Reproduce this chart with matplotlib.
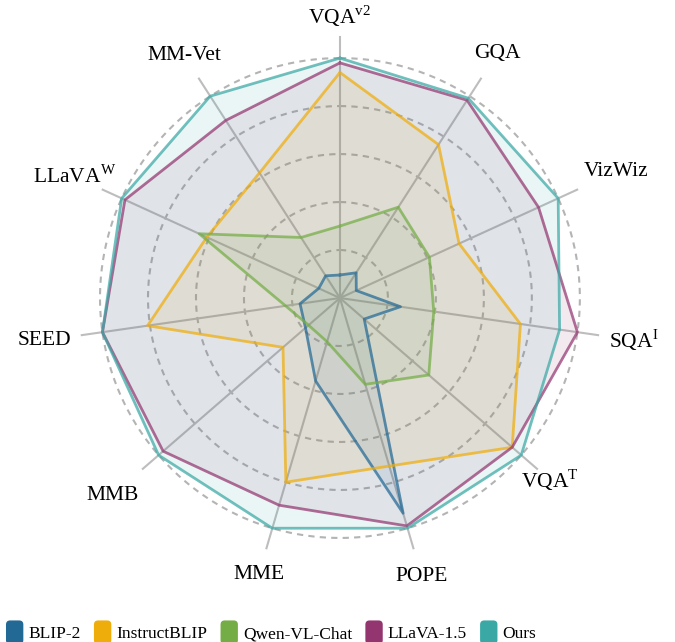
import numpy as np
import matplotlib
matplotlib.use("Agg")
import matplotlib.pyplot as plt
from matplotlib.patches import FancyBboxPatch
from matplotlib.legend_handler import HandlerPatch

plt.rcParams['font.family'] = ['Liberation Serif', 'DejaVu Serif']
plt.rcParams['mathtext.fontset'] = 'custom'
plt.rcParams['mathtext.rm'] = 'Liberation Serif'

# axes, clockwise from the top
benchmarks = [r'VQA$^{\mathrm{v2}}$', 'GQA', 'VizWiz', r'SQA$^{\mathrm{I}}$', r'VQA$^{\mathrm{T}}$',
              'POPE', 'MME', 'MMB', 'SEED', r'LLaVA$^{\mathrm{W}}$', 'MM-Vet']

# normalised scores
blip2 = [0.096, 0.125, 0.075, 0.255, 0.134, 0.935, 0.36, 0.19, 0.168, 0.097, 0.11]
instructblip = [0.94, 0.76, 0.546, 0.76, 0.95, 0.73, 0.80, 0.314, 0.81, 0.61, 0.62]
qwen = [0.30, 0.45, 0.41, 0.395, 0.49, 0.375, 0.19, 0.173, 0.229, 0.645, 0.30]
llava15 = [0.98, 0.98, 0.91, 1.0, 0.95, 0.99, 0.90, 0.975, 1.0, 0.985, 0.88]
ours = [1.0, 0.99, 1.0, 0.925, 1.0, 1.0, 1.0, 1.0, 1.0, 1.0, 1.0]

models = ['BLIP-2', 'InstructBLIP', 'Qwen-VL-Chat', 'LLaVA-1.5', 'Ours']
series = [blip2, instructblip, qwen, llava15, ours]
colors = ['#236995', '#efad0b', '#74ad45', '#933670', '#3aa8a5']

label_r = [1.175, 1.21, 1.267, 1.236, 1.16, 1.21, 1.20, 1.255, 1.244, 1.215, 1.20]

n = len(benchmarks)
theta = np.arange(n) * 2 * np.pi / n

fig = plt.figure(figsize=(6.75, 6.42), dpi=100)
ax = fig.add_axes([0.1126, 0.1246, 0.782, 0.8224], projection='polar')
ax.set_theta_zero_location('N')
ax.set_theta_direction(-1)
ax.set_ylim(0, 1.1)
ax.axis('off')

# rings and spokes
circ = np.linspace(0, 2 * np.pi, 500)
for r in [0.2, 0.4, 0.6, 0.8, 1.0]:
    ax.plot(circ, np.full_like(circ, r), ls=(0, (3, 2.5)), color='#b4b4b4', lw=1.5, zorder=1)
for t in theta:
    ax.plot([t, t], [0, 1.087], color='#bdbdbd', lw=1.5, zorder=1)

for vals, c in zip(series, colors):
    tt = np.append(theta, theta[0])
    vv = np.append(vals, vals[0])
    ax.fill(tt, vv, color=c, alpha=0.1, lw=0, zorder=2)
    ax.plot(tt, vv, color=c, lw=2, alpha=0.72, zorder=3)

for t, lab, r in zip(theta, benchmarks, label_r):
    ax.text(t, r, lab, ha='center', va='center', fontsize=15.5)


def round_box(legend, orig_handle, xdescent, ydescent, width, height, fontsize):
    return FancyBboxPatch((-xdescent, -ydescent - 3), width, height + 6,
                          boxstyle='round,pad=0,rounding_size=3')


handles = [plt.Rectangle((0, 0), 1, 1, facecolor=c, edgecolor='none') for c in colors]
fig.legend(handles, models, loc='lower left', bbox_to_anchor=(-0.004, -0.014), ncol=5,
           frameon=False, fontsize=12.5, handlelength=1.0, handleheight=1.0,
           handletextpad=0.3, columnspacing=0.75, borderpad=0,
           handler_map={plt.Rectangle: HandlerPatch(patch_func=round_box)})

fig.savefig('out.png', dpi=100)
